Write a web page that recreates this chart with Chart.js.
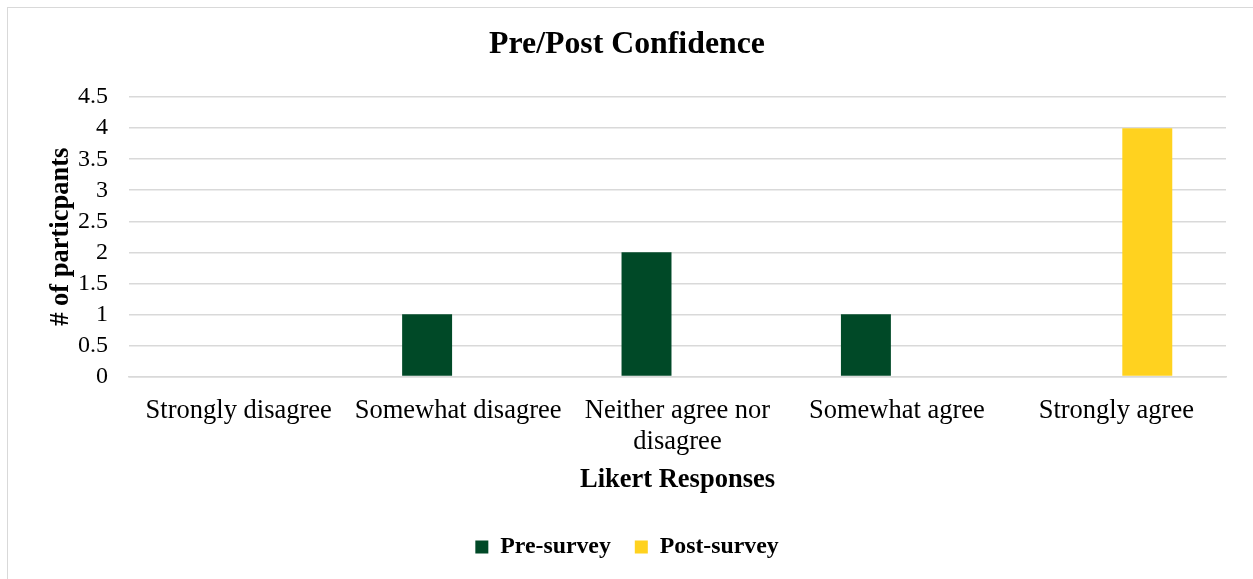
<!DOCTYPE html>
<html>
<head>
<meta charset="utf-8">
<script src="https://cdn.jsdelivr.net/npm/chart.js@4.4.1/dist/chart.umd.min.js"></script>
<style>
  html, body { margin: 0; padding: 0; background: #fff; overflow: hidden; }
  #frame { position: absolute; left: 7px; top: 7px; width: 1250px; height: 580px; border: 1px solid #d9d9d9; background: #fff; }
  #wrap { position: absolute; left: 0; top: 0; width: 1245px; height: 571px; }
</style>
</head>
<body>
<div id="frame"><div id="wrap"><canvas id="chart"></canvas></div></div>
<script>
const categories = ['Strongly disagree', 'Somewhat disagree', ['Neither agree nor', 'disagree'], 'Somewhat agree', 'Strongly agree'];
const preSurvey  = [0, 1, 2, 1, 0];
const postSurvey = [0, 0, 0, 0, 4];
const yTicks = [0, 0.5, 1, 1.5, 2, 2.5, 3, 3.5, 4, 4.5];

const serif = '"Liberation Serif", "Times New Roman", serif';
const gridGray = '#d9d9d9';

new Chart(document.getElementById('chart'), {
  type: 'bar',
  data: {
    labels: categories,
    datasets: [
      { label: 'Pre-survey',  data: preSurvey,  backgroundColor: '#004927', categoryPercentage: 0.565, barPercentage: 0.806 },
      { label: 'Post-survey', data: postSurvey, backgroundColor: '#ffd21f', categoryPercentage: 0.565, barPercentage: 0.806 }
    ]
  },
  options: {
    responsive: true,
    maintainAspectRatio: false,
    animation: false,
    layout: { padding: { left: 20, right: 27, top: 0, bottom: 10 } },
    plugins: {
      title: {
        display: true,
        text: 'Pre/Post Confidence',
        color: '#000',
        font: { family: serif, size: 31.8, weight: 'bold' },
        padding: { top: 18, bottom: 33 }
      },
      legend: {
        position: 'bottom',
        labels: {
          color: '#000',
          font: { family: serif, size: 23.8, weight: 'bold' },
          boxWidth: 13,
          boxHeight: 13,
          padding: 24
        }
      },
      tooltip: { enabled: false }
    },
    scales: {
      x: {
        grid: { display: false },
        border: { color: gridGray, width: 1.5 },
        ticks: { color: '#000', font: { family: serif, size: 26.5, lineHeight: 1.17 }, maxRotation: 0, autoSkip: false, padding: 11 },
        title: { display: true, text: 'Likert Responses', color: '#000', font: { family: serif, size: 26.5, weight: 'bold' }, padding: { top: -4, bottom: 15 } }
      },
      y: {
        min: 0,
        max: 4.5,
        afterBuildTicks: (s) => { s.ticks = yTicks.map(v => ({ value: v })); },
        afterFit: (s) => { s.width = 101; },
        grid: { color: gridGray, lineWidth: 1.5, drawTicks: false },
        border: { display: false },
        ticks: { color: '#000', font: { family: serif, size: 24 }, padding: 21, autoSkip: false, callback: (v) => String(v) },
        title: { display: true, text: '# of particpants', color: '#000', font: { family: serif, size: 26.5, weight: 'bold' }, padding: { top: 17, bottom: 0 } }
      }
    }
  }
});
</script>
</body>
</html>
